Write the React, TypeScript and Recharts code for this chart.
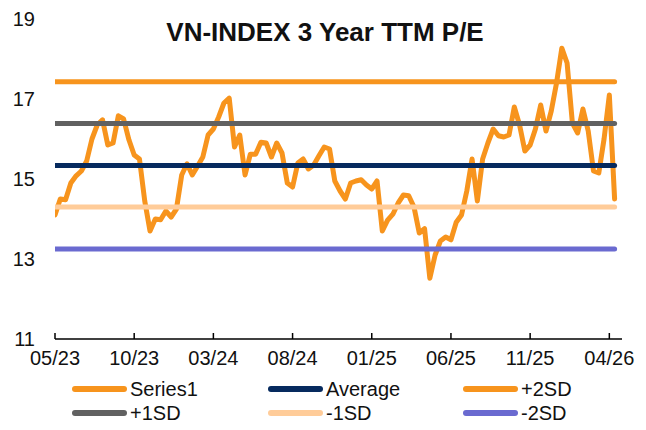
import React from 'react';
import { LineChart, Line, XAxis, YAxis } from 'recharts';

// TTM P/E, sampled three times a month starting 05/23
const peValues = [
  14.1, 14.5, 14.48, 14.9, 15.08, 15.2, 15.45, 16.0, 16.35, 16.48,
  15.85, 15.9, 16.58, 16.5, 15.98, 15.6, 15.5, 14.45, 13.7, 14.0,
  13.98, 14.2, 14.05, 14.25, 15.1, 15.38, 15.1, 15.32, 15.55, 16.1,
  16.25, 16.55, 16.9, 17.02, 15.8, 16.1, 15.1, 15.62, 15.62, 15.92,
  15.9, 15.55, 15.9, 15.65, 14.9, 14.8, 15.4, 15.5, 15.25, 15.35,
  15.58, 15.8, 15.75, 14.95, 14.7, 14.5, 14.9, 14.95, 14.98, 14.85,
  14.75, 14.95, 13.7, 13.97, 14.12, 14.4, 14.6, 14.58, 14.3, 13.65,
  13.76, 12.52, 13.1, 13.45, 13.55, 13.48, 13.92, 14.1, 14.7, 15.5,
  14.45, 15.5, 15.9, 16.25, 16.08, 16.05, 16.1, 16.8, 16.35, 15.7,
  15.85, 16.25, 16.85, 16.2, 16.7, 17.4, 18.27, 17.9, 16.4, 16.15,
  16.75, 16.2, 15.2, 15.15, 16.0, 17.1, 14.5,
];
const monthStep = 1 / 3;

const average = 15.34;
const plus1SD = 16.39;
const plus2SD = 17.43;
const minus1SD = 14.3;
const minus2SD = 13.25;

const tickMonths = [0, 5, 10, 15, 20, 25, 30, 35];
const tickLabels = ['05/23', '10/23', '03/24', '08/24', '01/25', '06/25', '11/25', '04/26'];
const yTicks = [11, 13, 15, 17, 19];

const series = [
  { key: 'pe', name: 'Series1', color: '#F7941D' },
  { key: 'avg', name: 'Average', color: '#062A5E' },
  { key: 'p2', name: '+2SD', color: '#F7941D' },
  { key: 'p1', name: '+1SD', color: '#616161' },
  { key: 'm1', name: '-1SD', color: '#FFCC99' },
  { key: 'm2', name: '-2SD', color: '#6A6AD0' },
];

const rows = peValues.map((v, i) => ({
  m: i * monthStep,
  pe: v,
  avg: average,
  p2: plus2SD,
  p1: plus1SD,
  m1: minus1SD,
  m2: minus2SD,
}));

const font = '"Liberation Sans", Arial, sans-serif';

const XTick = (props: any) => {
  const { x, y, payload } = props;
  const idx = tickMonths.indexOf(payload.value);
  return (
    <g>
      <line x1={x} y1={y} x2={x} y2={y - 6} stroke="#000" strokeWidth={1.5} />
      <text x={x} y={y + 26} textAnchor="middle" fontSize={20} fontFamily={font} fill="#111">
        {tickLabels[idx]}
      </text>
    </g>
  );
};

const YTick = (props: any) => {
  const { y, payload } = props;
  return (
    <text x={27} y={y + 7} textAnchor="end" fontSize={20} fontFamily={font} fill="#111">
      {payload.value}
    </text>
  );
};

export default function App() {
  const legendCols = [64, 260, 455];
  const legendRows = [381, 405];
  return (
    <div style={{ position: 'relative', width: 630, height: 414, fontFamily: font }}>
      <LineChart width={630} height={414} data={rows} margin={{ top: 11, right: 16, bottom: 53, left: 0 }}>
        <XAxis
          dataKey="m"
          type="number"
          domain={[0, 35.8]}
          ticks={tickMonths}
          tickSize={0}
          tickMargin={0}
          tickLine={false}
          tick={<XTick />}
          axisLine={{ stroke: '#000', strokeWidth: 1.5 }}
          height={30}
          allowDataOverflow
        />
        <YAxis
          domain={[11, 19]}
          ticks={yTicks}
          width={47}
          axisLine={false}
          tickLine={false}
          tick={<YTick />}
          allowDataOverflow
        />
        {series.map((s) => (
          <Line
            key={s.key}
            dataKey={s.key}
            name={s.name}
            stroke={s.color}
            strokeWidth={5}
            strokeLinejoin="round"
            strokeLinecap="round"
            dot={false}
            activeDot={false}
            isAnimationActive={false}
          />
        ))}
      </LineChart>
      <div
        style={{
          position: 'absolute',
          left: 0,
          width: 634,
          top: 9,
          textAlign: 'center',
          fontSize: 26,
          fontWeight: 'bold',
          color: '#111',
        }}
      >
        VN-INDEX 3 Year TTM P/E
      </div>
      {series.map((s, i) => {
        const left = legendCols[i % 3];
        const top = legendRows[Math.floor(i / 3)];
        return (
          <div key={s.key} style={{ position: 'absolute', left, top: top - 12, height: 24, display: 'flex', alignItems: 'center' }}>
            <div style={{ width: 55, height: 6, borderRadius: 3, background: s.color, marginRight: 3 }} />
            <span style={{ fontSize: 20, color: '#111', lineHeight: '24px' }}>{s.name}</span>
          </div>
        );
      })}
    </div>
  );
}
